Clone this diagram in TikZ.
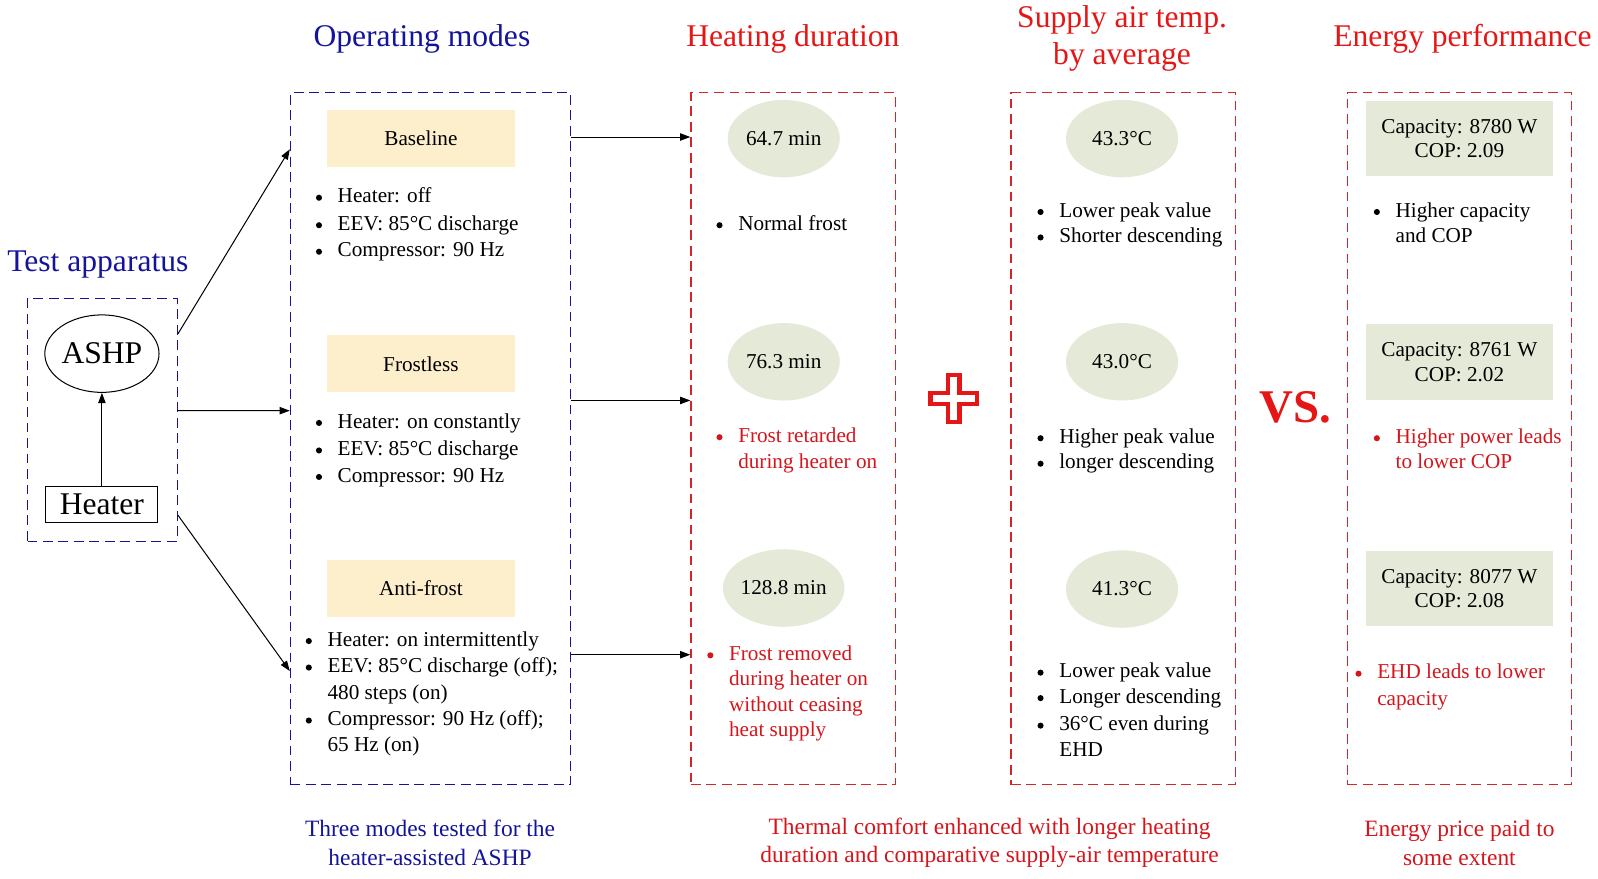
\documentclass[tikz,border=0pt]{standalone}
\usepackage{fontspec}
\setmainfont{Liberation Serif}
\usetikzlibrary{arrows.meta,shapes.geometric,calc}
\definecolor{navy}{RGB}{20,20,155}
\definecolor{tred}{RGB}{228,22,22}
\definecolor{bred}{RGB}{208,40,40}
\definecolor{txred}{RGB}{212,22,28}
\definecolor{ylw}{RGB}{253,239,204}
\definecolor{grn}{RGB}{228,234,215}
\newcommand{\bitem}[5]{%
  \node[bulletdot, fill=#4] (#1b) at (#2-18,#3-5) {};
  \node[bodytxt, text=#4, anchor=base west] (#1) at (#2,#3) {#5};}
\newcommand{\contline}[5]{%
  \node[bodytxt, text=#4, anchor=base west] (#1) at (#2,#3) {#5};}
\tikzset{
  bodytxt/.style={inner sep=0pt, font=\fontsize{10.4}{13}\selectfont},
  bulletdot/.style={circle, inner sep=0pt, minimum size=3pt, draw=none},
  ttl/.style={inner sep=0pt, align=center, font=\fontsize{15.5}{18}\selectfont},
  capt/.style={inner sep=0pt, align=center, font=\fontsize{11.5}{14}\selectfont},
  bbox/.style={rectangle, draw=navy, line width=0.65pt, dash pattern=on 4.8pt off 2.8pt, inner sep=0pt},
  rbox/.style={bbox, draw=bred},
  modebox/.style={rectangle, fill=ylw, minimum width=92.5pt, minimum height=28pt, inner sep=0pt, font=\fontsize{10.4}{13}\selectfont},
  ell/.style={ellipse, fill=grn, minimum width=55pt, minimum height=38pt, inner sep=0pt, font=\fontsize{10.4}{13}\selectfont},
  perf/.style={rectangle, fill=grn, minimum width=92pt, minimum height=37pt, inner sep=0pt, align=center, font=\fontsize{10.4}{12.2}\selectfont},
  arr/.style={-{Triangle[length=5pt,width=3.6pt]}, line width=0.5pt, black},
}
\begin{document}
\begin{tikzpicture}[x=0.5pt,y=-0.5pt]
\useasboundingbox (0,0) rectangle (1568,862);

% titles
\node[ttl, text=navy] (t1) at (96,260) {Test apparatus};
\node[ttl, text=navy] (t2) at (414,38) {Operating modes};
\node[ttl, text=tred] (t3) at (778,38) {Heating duration};
\node[ttl, text=tred] (t4) at (1101,38) {Supply air temp.\\by average};
\node[ttl, text=tred] (t5) at (1435,38) {Energy performance};

% dashed boxes
\node[bbox, minimum width=73.5pt, minimum height=119pt] (app) at (100.5,412) {};
\node[bbox, minimum width=137.5pt, minimum height=339.5pt] (op) at (422.5,430.5) {};
\node[rbox, minimum width=100.5pt, minimum height=339.5pt] (heat) at (778.5,430.5) {};
\node[rbox, minimum width=110pt, minimum height=339.5pt] (sup) at (1102,430.5) {};
\node[rbox, minimum width=110pt, minimum height=339.5pt] (en) at (1432,430.5) {};

% apparatus
\node[ellipse, draw, line width=0.5pt, minimum width=55pt, minimum height=38pt, inner sep=0pt, font=\fontsize{15.5}{18}\selectfont] (ashp) at (100,347) {ASHP};
\node[rectangle, draw, line width=0.5pt, minimum width=55pt, minimum height=18pt, inner sep=0pt, font=\fontsize{15.5}{18}\selectfont] (htr) at (100,495) {Heater};
\draw[arr] (htr) -- (ashp);

% arrows apparatus -> modes
\draw[arr] ($(app.north east)!0.147!(app.south east)$) -- ($(op.north west)!0.0825!(op.south west)$);
\draw[arr] ($(app.north east)!0.462!(app.south east)$) -- ($(op.north west)!0.4595!(op.south west)$);
\draw[arr] ($(app.north east)!0.891!(app.south east)$) -- ($(op.north west)!0.835!(op.south west)$);

% arrows modes -> heating
\draw[arr] ($(op.north east)!0.0648!(op.south east)$) -- ($(heat.north west)!0.0648!(heat.south west)$);
\draw[arr] ($(op.north east)!0.4448!(op.south east)$) -- ($(heat.north west)!0.4448!(heat.south west)$);
\draw[arr] ($(op.north east)!0.8115!(op.south east)$) -- ($(heat.north west)!0.8115!(heat.south west)$);

% operating modes
\node[modebox] (m1) at (413,136) {Baseline};
\node[modebox] (m2) at (413,357) {Frostless};
\node[modebox] (m3) at (413,577) {Anti-frost};
\bitem{a1}{331}{199}{black}{Heater: off}
\bitem{a2}{331}{226}{black}{EEV: 85°C discharge}
\bitem{a3}{331}{252}{black}{Compressor: 90 Hz}
\bitem{b1}{331}{420}{black}{Heater: on constantly}
\bitem{b2}{331}{447}{black}{EEV: 85°C discharge}
\bitem{b3}{331}{473}{black}{Compressor: 90 Hz}
\bitem{c1}{321}{634}{black}{Heater: on intermittently}
\bitem{c2}{321}{660}{black}{EEV: 85°C discharge (off);}
\contline{c2x}{321}{686}{black}{480 steps (on)}
\bitem{c3}{321}{712}{black}{Compressor: 90 Hz (off);}
\contline{c3x}{321}{737}{black}{65 Hz (on)}

% heating duration
\node[ell] (h1) at (769,136) {64.7 min};
\node[ell] (h2) at (769,355) {76.3 min};
\node[ell] (h3) at (769,577) {128.8 min};
\bitem{d1}{724}{226}{black}{Normal frost}
\bitem{d2}{724}{434}{txred}{Frost retarded}
\contline{d2x}{724}{460}{txred}{during heater on}
\bitem{d3}{715}{648}{txred}{Frost removed}
\contline{d3x}{715}{673}{txred}{during heater on}
\contline{d3y}{715}{698}{txred}{without ceasing}
\contline{d3z}{715}{723}{txred}{heat supply}

% plus sign
\draw[tred, line width=2pt, fill=white, line join=miter]
  (936-5.5,391-23) -- (936+5.5,391-23) -- (936+5.5,391-5.5) -- (936+23,391-5.5)
  -- (936+23,391+5.5) -- (936+5.5,391+5.5) -- (936+5.5,391+23) -- (936-5.5,391+23)
  -- (936-5.5,391+5.5) -- (936-23,391+5.5) -- (936-23,391-5.5) -- (936-5.5,391-5.5) -- cycle;

% supply air temp
\node[ell] (s1) at (1101,136) {43.3°C};
\node[ell] (s2) at (1101,355) {43.0°C};
\node[ell] (s3) at (1101,578) {41.3°C};
\bitem{e1}{1039}{213}{black}{Lower peak value}
\bitem{e2}{1039}{238}{black}{Shorter descending}
\bitem{f1}{1039}{435}{black}{Higher peak value}
\bitem{f2}{1039}{460}{black}{longer descending}
\bitem{g1}{1039}{665}{black}{Lower peak value}
\bitem{g2}{1039}{690}{black}{Longer descending}
\bitem{g3}{1039}{717}{black}{36°C even during}
\contline{g3x}{1039}{742}{black}{EHD}

% vs
\node[inner sep=0pt, text=tred, font=\fontsize{23}{26}\selectfont\bfseries] (vs) at (1271,400) {VS.};

% energy performance
\node[perf] (p1) at (1432,136) {Capacity: 8780 W\\COP: 2.09};
\node[perf] (p2) at (1432,355) {Capacity: 8761 W\\COP: 2.02};
\node[perf] (p3) at (1432,577.5) {Capacity: 8077 W\\COP: 2.08};
\bitem{k1}{1369}{213}{black}{Higher capacity}
\contline{k1x}{1369}{238}{black}{and COP}
\bitem{k2}{1369}{435}{txred}{Higher power leads}
\contline{k2x}{1369}{460}{txred}{to lower COP}
\bitem{k3}{1351}{666}{txred}{EHD leads to lower}
\contline{k3x}{1351}{692}{txred}{capacity}

% captions
\node[capt, text=navy] (c1cap) at (422,827) {Three modes tested for the\\heater-assisted ASHP};
\node[capt, text=txred] (c2cap) at (971,827) {Thermal comfort enhanced with longer heating\\duration and comparative supply-air temperature};
\node[capt, text=txred] (c3cap) at (1432,827) {Energy price paid to\\some extent};
\end{tikzpicture}
\end{document}
